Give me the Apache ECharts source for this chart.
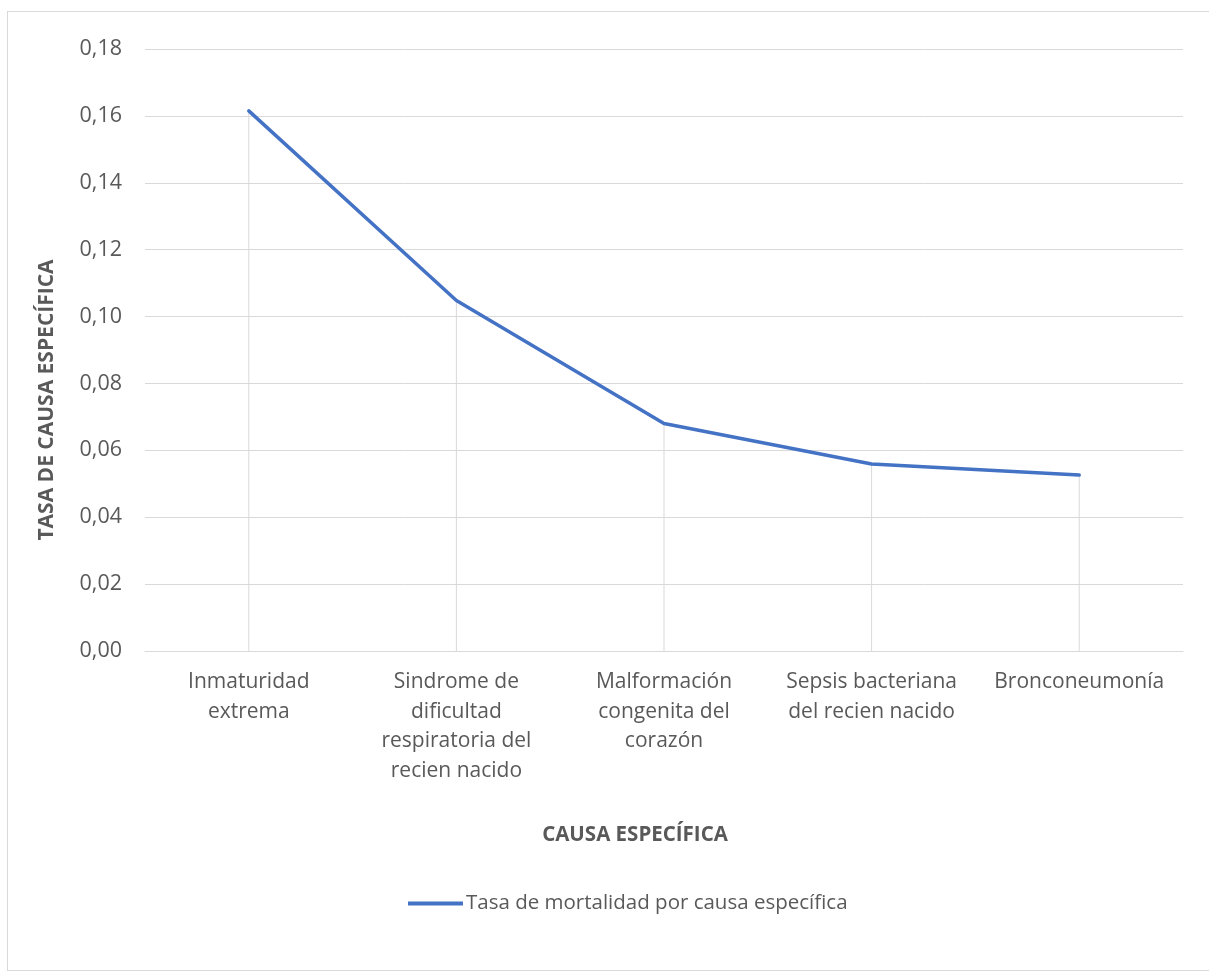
<!DOCTYPE html>
<html><head><meta charset="utf-8">
<script src="https://cdn.jsdelivr.net/npm/echarts@6/dist/echarts.min.js"></script>
<style>
html,body{margin:0;padding:0;background:#fff;}
#frame{position:absolute;left:7px;top:11px;width:1210px;height:960px;border:1px solid #d9d9d9;box-sizing:border-box;}
#c{position:absolute;left:0;top:0;width:1209px;height:973px;}
</style></head>
<body><div id="frame"></div><div id="c"></div>
<script>
const categories = ["Inmaturidad\nextrema","Sindrome de\ndificultad\nrespiratoria del\nrecien nacido","Malformación\ncongenita del\ncorazón","Sepsis bacteriana\ndel recien nacido","Bronconeumonía"];
const values = [0.1615, 0.1048, 0.0680, 0.0559, 0.0526];
const seriesName = "Tasa de mortalidad por causa específica";
const xTitle = "CAUSA ESPECÍFICA";
const yTitle = "TASA DE CAUSA ESPECÍFICA";

const chart = echarts.init(document.getElementById('c'));
const font = "'Open Sans', sans-serif";
chart.setOption({
  animation:false,
  textStyle:{fontFamily:font},
  grid:{left:145,right:26,top:49,bottom:322,containLabel:false},
  legend:{data:[seriesName],top:888,left:403,icon:'rect',itemWidth:55,itemHeight:4,itemGap:0,
    textStyle:{fontFamily:font,fontSize:20.5,color:'#595959',padding:[0,0,0,-2]}},
  graphic:[
    {type:'text',x:0,style:{text:xTitle,x:635,y:835,textAlign:'center',textVerticalAlign:'middle',
      font:"bold 20.5px 'Open Sans', sans-serif",fill:'#595959'}},
    {type:'text',rotation:Math.PI/2,x:47,y:400,style:{text:yTitle,x:0,y:0,textAlign:'center',textVerticalAlign:'middle',
      font:"bold 21px 'Open Sans', sans-serif",fill:'#595959'}}
  ],
  xAxis:{type:'category',data:categories,
    axisLine:{lineStyle:{color:'#d9d9d9',width:1}},axisTick:{show:false},
    axisLabel:{fontFamily:font,fontSize:21,color:'#595959',lineHeight:29.7,margin:16,interval:0}},
  yAxis:{type:'value',min:0,max:0.18,interval:0.02,
    axisLine:{show:false},axisTick:{show:false},
    axisLabel:{fontFamily:font,fontSize:21.5,color:'#595959',margin:23,
      formatter:v=>v.toFixed(2).replace('.',',')},
    splitLine:{lineStyle:{color:'#d9d9d9',width:1}}},
  series:[
    {type:'bar',data:values,barWidth:1,silent:true,itemStyle:{color:'#d9d9d9'},z:1,legendHoverLink:false},
    {name:seriesName,type:'line',data:values,symbol:'none',lineStyle:{color:'#4472C4',width:3.5,cap:'round'},itemStyle:{color:'#4472C4'},z:3}
  ]
});
</script></body></html>
